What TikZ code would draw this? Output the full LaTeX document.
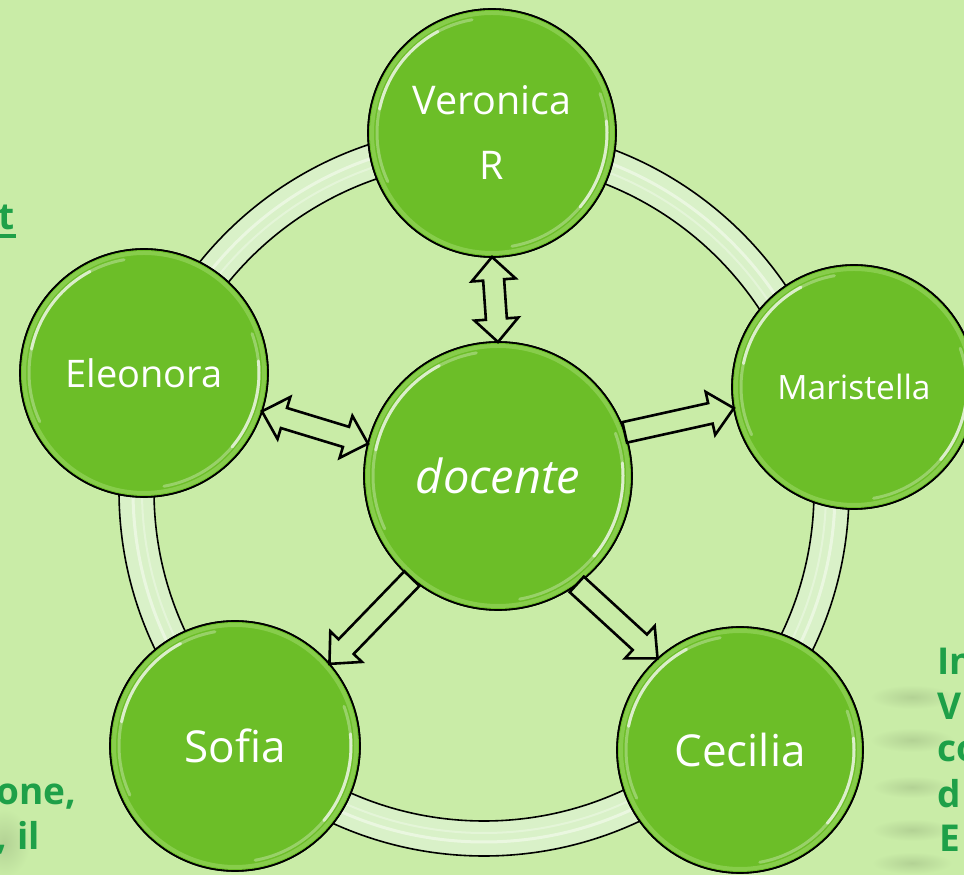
\documentclass[tikz,border=0pt]{standalone}
\usepackage{fontspec}
\setmainfont{Open Sans}
\usetikzlibrary{calc}

\definecolor{bgc}{RGB}{201,236,167}
\definecolor{ballc}{RGB}{108,190,40}
\definecolor{ringc}{RGB}{217,241,200}
\definecolor{rimc}{RGB}{150,214,95}
\definecolor{notec}{RGB}{30,160,72}

\tikzset{
  bubble/.style={circle, fill=ballc, draw=black, line width=1.6pt,
    inner sep=0pt, outer sep=0pt, text=white, align=center},
  rim/.style={rimc, line width=4pt, opacity=.65},
  shine/.style={white, line width=3pt, line cap=round},
  blockarrow/.style={draw=black, fill=bgc, line width=2.6pt, line join=miter},
  ringedge/.style={draw=black, line width=1.6pt},
  frag/.style={text=notec, inner sep=0pt, font=\fontsize{37}{45}\selectfont\bfseries},
  smudge/.style={inner color=black!11!bgc, outer color=bgc},
}

% glossy disc: name, centre, radius, font, label
\newcommand{\bubble}[5]{%
  \node[bubble, minimum size={2*#3}, font=#4] (#1) at (#2) {#5};
  \pgfmathsetmacro{\hr}{#3-9}
  \pgfmathsetmacro{\rr}{#3-4}
  \begin{scope}
    \clip (#1.center) circle[radius=#3];
    \draw[rim] (#1.center) circle[radius=\rr];
    \draw[shine, opacity=.3] ([shift={(100:\hr)}]#1.center) arc[start angle=100, end angle=205, radius=\hr];
    \draw[shine, opacity=.65] ([shift={(118:\hr)}]#1.center) arc[start angle=118, end angle=168, radius=\hr];
    \draw[shine, opacity=.3] ([shift={(-80:\hr)}]#1.center) arc[start angle=-80, end angle=20, radius=\hr];
    \draw[shine, opacity=.65] ([shift={(-40:\hr)}]#1.center) arc[start angle=-40, end angle=6, radius=\hr];
  \end{scope}
  \draw[draw=black, line width=1.6pt] (#1.center) circle[radius=#3];
}

% block arrow with one head, from #1 to #2
\newcommand{\onewayarrow}[2]{%
  \draw[blockarrow] let \p1=(#1), \p2=(#2),
      \n1={atan2(\y2-\y1,\x2-\x1)}, \n2={veclen(\x2-\x1,\y2-\y1)} in
    [shift={(\p1)}, rotate=\n1]
    (0,-10.5) -- ({\n2-24},-10.5) -- ({\n2-24},-22) -- (\n2,0)
    -- ({\n2-24},22) -- ({\n2-24},10.5) -- (0,10.5) -- cycle;}

% block arrow with a head at both ends
\newcommand{\twowayarrow}[2]{%
  \draw[blockarrow] let \p1=(#1), \p2=(#2),
      \n1={atan2(\y2-\y1,\x2-\x1)}, \n2={veclen(\x2-\x1,\y2-\y1)} in
    [shift={(\p1)}, rotate=\n1]
    (0,0) -- (23,-22) -- (23,-10.5) -- ({\n2-23},-10.5) -- ({\n2-23},-22) -- (\n2,0)
    -- ({\n2-23},22) -- ({\n2-23},10.5) -- (23,10.5) -- (23,22) -- cycle;}

\begin{document}
\begin{tikzpicture}[x=1pt, y=1pt]
  \useasboundingbox (0,0) rectangle (964,875);
  \fill[bgc] (0,0) rectangle (964,875);
  \clip (0,0) rectangle (964,875);

  % soft shadows behind the side notes
  \shade[smudge] (912,178) ellipse[x radius=42, y radius=12];
  \shade[smudge] (912,135) ellipse[x radius=42, y radius=12];
  \shade[smudge] (912,88) ellipse[x radius=40, y radius=11];
  \shade[smudge] (912,45) ellipse[x radius=40, y radius=11];
  \shade[smudge] (912,12) ellipse[x radius=40, y radius=11];
  \shade[smudge] (4,32) ellipse[x radius=26, y radius=34];

  % ring joining the outer discs
  \coordinate (hub) at (484,384);
  \fill[ringc, even odd rule] (hub) circle[radius=365] (hub) circle[radius=330];
  \draw[white, opacity=.45, line width=3pt] (hub) circle[radius=351];
  \draw[white, opacity=.3, line width=2pt] (hub) circle[radius=342];
  \draw[ringedge] (hub) circle[radius=365];
  \draw[ringedge] (hub) circle[radius=330];

  % discs
  \bubble{ver}{492,742}{124}{\fontsize{39.5}{65}\selectfont}{Veronica\\R}
  \bubble{ele}{144,502}{124}{\fontsize{38}{45}\selectfont}{Eleonora}
  \bubble{mar}{854,488}{122}{\fontsize{33.5}{40}\selectfont}{Maristella}
  \bubble{sof}{235,129}{125}{\fontsize{44}{50}\selectfont}{Sofia}
  \bubble{cec}{740,125}{123}{\fontsize{44}{50}\selectfont}{Cecilia}
  \bubble{doc}{498,399}{134}{\fontsize{47}{55}\selectfont\itshape}{docente}

  % arrows from the centre disc
  \twowayarrow{doc.90}{ver.-90}
  \twowayarrow{doc.166}{ele.-18}
  \onewayarrow{doc.19}{mar.190}
  \onewayarrow{doc.230}{sof.41}
  \onewayarrow{doc.-54}{cec.132}

  % side notes running off the page
  \node[frag, anchor=base east] (noteT) at (15,645) {t};
  \draw[notec, line width=3.5pt] ([shift={(-6,-6)}]noteT.base west) -- ([shift={(1,-6)}]noteT.base east);
  \node[frag, anchor=base west] (noteA) at (-4,70) {one,};
  \node[frag, anchor=base east] (noteB) at (40,25) {, il};
  \node[frag, anchor=base west] (noteC) at (937,200) {In};
  \node[frag, anchor=base west] (noteD) at (937,155) {V};
  \node[frag, anchor=base west] (noteE) at (937,113) {co};
  \node[frag, anchor=base west] (noteF) at (937,67) {d};
  \node[frag, anchor=base west] (noteG) at (939,23) {E};
\end{tikzpicture}
\end{document}
